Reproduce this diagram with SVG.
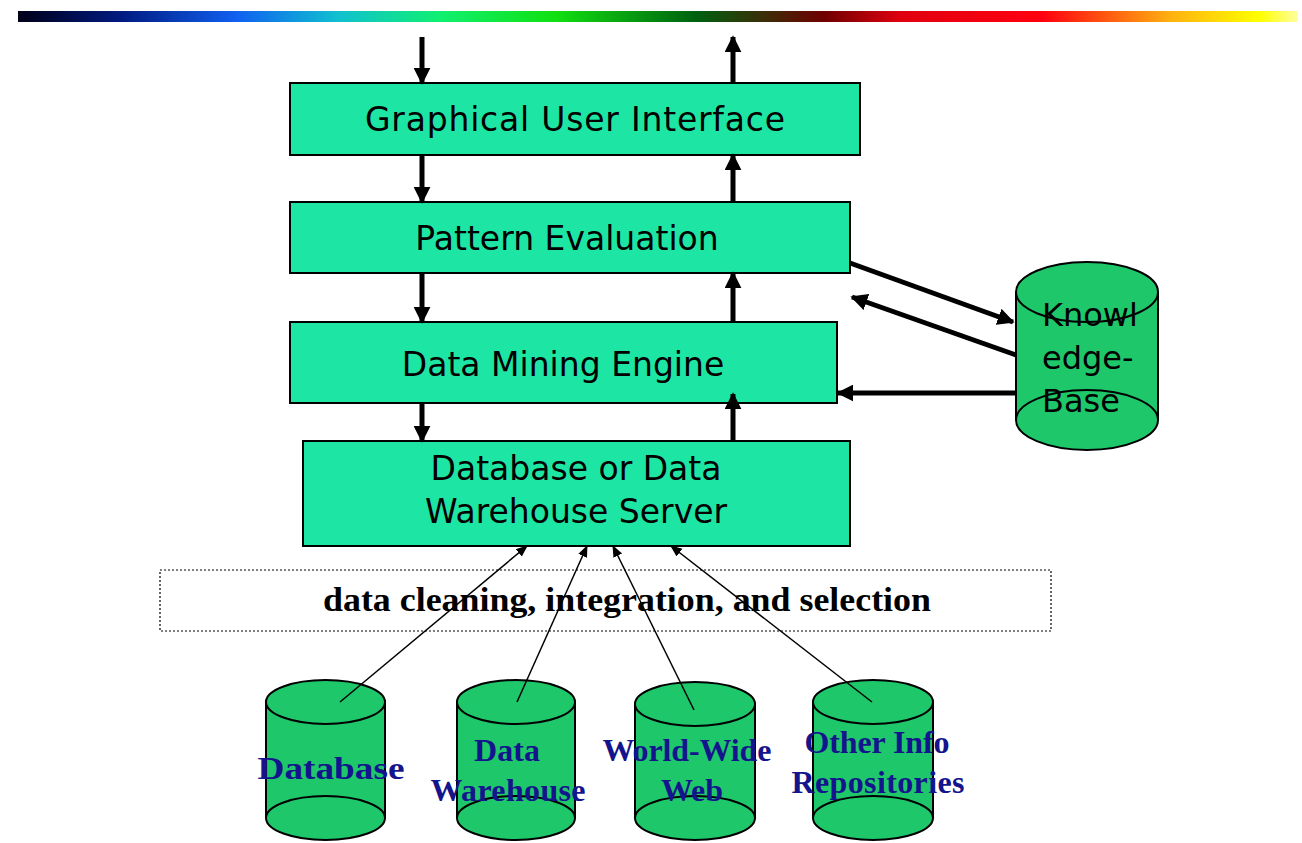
<svg xmlns="http://www.w3.org/2000/svg" width="1302" height="843" viewBox="0 0 1302 843">
<defs>
<linearGradient id="bar" x1="0" y1="0" x2="1" y2="0">
<stop offset="0" stop-color="#000018"/>
<stop offset="0.08" stop-color="#001a80"/>
<stop offset="0.17" stop-color="#1060f0"/>
<stop offset="0.25" stop-color="#10c0d0"/>
<stop offset="0.33" stop-color="#10f070"/>
<stop offset="0.42" stop-color="#10e010"/>
<stop offset="0.53" stop-color="#006010"/>
<stop offset="0.63" stop-color="#700000"/>
<stop offset="0.69" stop-color="#e00010"/>
<stop offset="0.8" stop-color="#ff0010"/>
<stop offset="0.9" stop-color="#ffb010"/>
<stop offset="0.97" stop-color="#ffff00"/>
<stop offset="1" stop-color="#ffffa0"/>
</linearGradient>
<marker id="thick" viewBox="0 0 10 10" refX="9" refY="5" markerWidth="3.4" markerHeight="3.4" orient="auto" markerUnits="strokeWidth">
<path d="M0,0 L10,5 L0,10 Z" fill="#000"/>
</marker>
<marker id="thin" viewBox="0 0 10 10" refX="9" refY="5" markerWidth="8" markerHeight="8" orient="auto" markerUnits="strokeWidth">
<path d="M0,1 L10,5 L0,9 Z" fill="#000"/>
</marker>
</defs>
<style>
.box{fill:#1de6a4;stroke:#000;stroke-width:2}
.bt{font-family:"DejaVu Sans",Verdana,sans-serif;font-size:33px;fill:#000;text-anchor:middle}
.cyl{fill:#1ec86a;stroke:#000;stroke-width:2}
.kt{font-family:"DejaVu Sans",Verdana,sans-serif;font-size:32px;fill:#000}
.st{font-family:"Liberation Serif","Times New Roman",serif;font-weight:bold;font-size:32px;fill:#14148c;text-anchor:middle}
.th{stroke:#000;stroke-width:5;fill:none;marker-end:url(#thick)}
.tn{stroke:#000;stroke-width:1.5;fill:none;marker-end:url(#thin)}
</style>
<rect x="18" y="11" width="1280" height="11" fill="url(#bar)"/>

<g id="gui">
<rect class="box" x="290" y="83" width="570" height="72"/>
<text class="bt" x="575" y="131" textLength="420">Graphical User Interface</text>
</g>
<g id="pattern">
<rect class="box" x="290" y="202" width="560" height="71"/>
<text class="bt" x="567" y="250">Pattern Evaluation</text>
</g>
<g id="engine">
<rect class="box" x="290" y="322" width="547" height="81"/>
<text class="bt" x="563" y="376">Data Mining Engine</text>
</g>
<g id="server">
<rect class="box" x="303" y="441" width="547" height="105"/>
<text class="bt" x="576" y="480">Database or Data</text>
<text class="bt" x="576" y="523">Warehouse Server</text>
</g>

<g id="knowledge">
<path class="cyl" d="M1016,292 L1016,420 A71,30 0 0 0 1158,420 L1158,292"/>
<ellipse class="cyl" cx="1087" cy="292" rx="71" ry="30"/>
<path d="M1016,420 A71,30 0 0 1 1158,420" fill="none" stroke="#000" stroke-width="2"/>
<text class="kt" x="1042" y="326">Knowl</text>
<text class="kt" x="1042" y="369">edge-</text>
<text class="kt" x="1042" y="412">Base</text>
</g>

<g id="cleaning">
<rect x="160" y="570" width="891" height="61" fill="none" stroke="#000" stroke-width="1.2" stroke-dasharray="2,2"/>
<text x="627" y="611" font-family="'Liberation Serif','Times New Roman',serif" font-weight="bold" font-size="33" text-anchor="middle" fill="#000" textLength="608" lengthAdjust="spacingAndGlyphs">data cleaning, integration, and selection</text>
</g>

<g id="database">
<path class="cyl" d="M266,702 L266,818 A59.5,22 0 0 0 385,818 L385,702"/>
<ellipse class="cyl" cx="325.5" cy="702" rx="59.5" ry="22"/>
<path d="M266,818 A59.5,22 0 0 1 385,818" fill="none" stroke="#000" stroke-width="2"/>
<text class="st" x="331" y="779" font-size="34" textLength="147" lengthAdjust="spacingAndGlyphs">Database</text>
</g>
<g id="warehouse">
<path class="cyl" d="M457,702 L457,818 A59,22 0 0 0 575,818 L575,702"/>
<ellipse class="cyl" cx="516" cy="702" rx="59" ry="22"/>
<path d="M457,818 A59,22 0 0 1 575,818" fill="none" stroke="#000" stroke-width="2"/>
<text class="st" x="507" y="761">Data</text>
<text class="st" x="508" y="801" textLength="155">Warehouse</text>
</g>
<g id="www">
<path class="cyl" d="M635,704 L635,818 A60,22 0 0 0 755,818 L755,704"/>
<ellipse class="cyl" cx="695" cy="704" rx="60" ry="22"/>
<path d="M635,818 A60,22 0 0 1 755,818" fill="none" stroke="#000" stroke-width="2"/>
<text class="st" x="687" y="761" textLength="169">World-Wide</text>
<text class="st" x="692" y="801">Web</text>
</g>
<g id="other">
<path class="cyl" d="M813,702 L813,818 A60,22 0 0 0 933,818 L933,702"/>
<ellipse class="cyl" cx="873" cy="702" rx="60" ry="22"/>
<path d="M813,818 A60,22 0 0 1 933,818" fill="none" stroke="#000" stroke-width="2"/>
<text class="st" x="877" y="753" textLength="145">Other Info</text>
<text class="st" x="878" y="793" textLength="173">Repositories</text>
</g>

<g id="connectors">
<line class="th" x1="422" y1="37" x2="422" y2="83"/>
<line class="th" x1="733" y1="83" x2="733" y2="37"/>
<line class="th" x1="422" y1="155" x2="422" y2="202"/>
<line class="th" x1="733" y1="202" x2="733" y2="155"/>
<line class="th" x1="422" y1="273" x2="422" y2="322"/>
<line class="th" x1="733" y1="322" x2="733" y2="273"/>
<line class="th" x1="422" y1="403" x2="422" y2="441"/>
<line class="th" x1="733" y1="441" x2="733" y2="394"/>
<line class="th" x1="850" y1="263" x2="1013" y2="322"/>
<line class="th" x1="1016" y1="355" x2="852" y2="297"/>
<line class="th" x1="1016" y1="393" x2="838" y2="393"/>
<line class="tn" x1="340" y1="702" x2="527" y2="546"/>
<line class="tn" x1="517" y1="702" x2="587" y2="546"/>
<line class="tn" x1="694" y1="710" x2="613" y2="546"/>
<line class="tn" x1="872" y1="702" x2="671" y2="546"/>
</g>
</svg>
